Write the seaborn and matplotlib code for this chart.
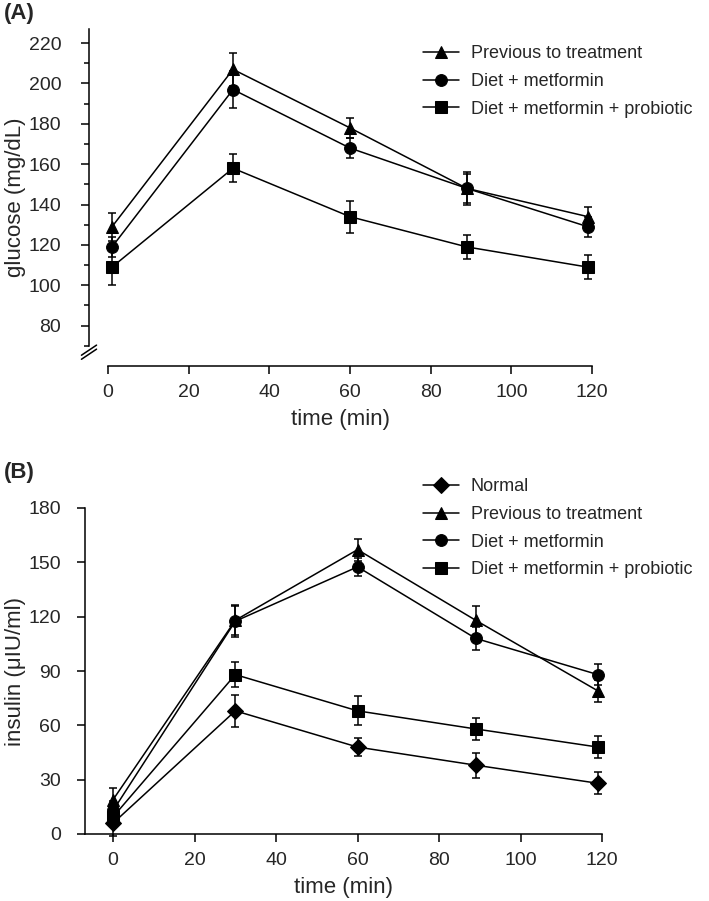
import numpy as np
import pandas as pd
import matplotlib
matplotlib.use("Agg")
import matplotlib.pyplot as plt
import seaborn as sns

# ---- data ----
time_a = [1, 31, 60, 89, 119]
glu_prev = [129, 207, 178, 148, 134]
glu_prev_err = [7, 8, 5, 8, 5]
glu_met = [119, 197, 168, 148, 129]
glu_met_err = [5, 9, 5, 7, 5]
glu_pro = [109, 158, 134, 119, 109]
glu_pro_err = [9, 7, 8, 6, 6]

time_b = [0, 30, 60, 89, 119]
ins_norm = [6, 68, 48, 38, 28]
ins_norm_err = [7, 9, 5, 7, 6]
ins_prev = [19, 118, 157, 118, 79]
ins_prev_err = [6.5, 8, 6, 8, 6]
ins_met = [13, 117.5, 147.5, 108, 88]
ins_met_err = [5, 9, 5, 6.5, 6]
ins_pro = [9.5, 88, 68, 58, 48]
ins_pro_err = [5, 7, 8, 6, 6]

groups_a = ["Previous to treatment", "Diet + metformin", "Diet + metformin + probiotic"]
groups_b = ["Normal"] + groups_a
markers = {"Normal": "D", "Previous to treatment": "^",
           "Diet + metformin": "o", "Diet + metformin + probiotic": "s"}

sns.set_style("ticks")
plt.rcParams["font.family"] = ["Liberation Sans", "DejaVu Sans"]
plt.rcParams["font.size"] = 14

df_a = pd.DataFrame({
    "time": time_a * 3,
    "glucose": glu_prev + glu_met + glu_pro,
    "err": glu_prev_err + glu_met_err + glu_pro_err,
    "group": np.repeat(groups_a, len(time_a)),
})
df_b = pd.DataFrame({
    "time": time_b * 4,
    "insulin": ins_norm + ins_prev + ins_met + ins_pro,
    "err": ins_norm_err + ins_prev_err + ins_met_err + ins_pro_err,
    "group": np.repeat(groups_b, len(time_b)),
})

fig = plt.figure(figsize=(7.09, 9.01), dpi=100)
ax_a = fig.add_axes([89 / 709, 1 - 366 / 901, (592 - 89) / 709, (366 - 29) / 901])
ax_b = fig.add_axes([85 / 709, 1 - 834 / 901, (602 - 85) / 709, (834 - 508) / 901])


def draw(ax, df, ycol, order):
    for g in order:
        sub = df[df["group"] == g]
        ax.errorbar(sub["time"], sub[ycol], yerr=sub["err"], fmt="none",
                    ecolor="black", elinewidth=1.1, capsize=3, capthick=1.1,
                    clip_on=False, zorder=2)
    sns.lineplot(data=df, x="time", y=ycol, style="group", style_order=order,
                 markers=markers, dashes=False, color="black", linewidth=1.1,
                 markersize=8.5, markeredgecolor="black", errorbar=None,
                 sort=False, ax=ax, clip_on=False, zorder=3)
    ax.set_xlabel("time (min)", fontsize=16, labelpad=6)
    ax.set_xticks([0, 20, 40, 60, 80, 100, 120])
    ax.spines["right"].set_visible(False)
    ax.spines["top"].set_visible(False)
    ax.tick_params(axis="both", direction="out", length=6, width=1.1,
                   labelsize=14, color="black")
    ax.tick_params(axis="x", pad=7)
    for s in ["left", "bottom"]:
        ax.spines[s].set_linewidth(1.1)
        ax.spines[s].set_color("black")
    ax.legend(loc="upper left", frameon=False, fontsize=13,
              bbox_transform=fig.transFigure, borderaxespad=0, borderpad=0,
              handlelength=2.0, handletextpad=0.65, labelspacing=0.6)


# ---- panel A ----
draw(ax_a, df_a, "glucose", groups_a)
ax_a.set_xlim(-4.7, 120)
ax_a.set_ylim(60, 227)
ax_a.spines["bottom"].set_bounds(0, 120)
ax_a.set_yticks(range(80, 221, 20))
ax_a.set_yticks(range(70, 221, 10), minor=True)
ax_a.tick_params(axis="y", which="major", pad=14)
ax_a.tick_params(axis="y", which="minor", length=3.5, width=1.1, color="black")
ax_a.spines["left"].set_bounds(70, 227)
ax_a.set_ylabel("glucose (mg/dL)", fontsize=16)
ax_a.yaxis.set_label_coords((26 - 89) / 503, 0.5)
# axis break marks
for dy in (0, 0.012):
    ax_a.plot([-0.015, 0.015], [0.02 + dy, 0.05 + dy], transform=ax_a.transAxes,
              color="black", lw=1.1, clip_on=False)
ax_a.get_legend().set_bbox_to_anchor((423 / 709, 1 - 45 / 901), transform=fig.transFigure)
fig.text(4 / 709, 1 - 13 / 901, "(A)", fontsize=16, fontweight="bold", va="center")

# ---- panel B ----
draw(ax_b, df_b, "insulin", groups_b)
ax_b.set_xlim(-6.9, 120)
ax_b.set_ylim(0, 180)
ax_b.spines["bottom"].set_bounds(-6.9, 120)
ax_b.set_yticks(range(0, 181, 30))
ax_b.tick_params(axis="y", pad=11.5)
ax_b.set_ylabel("insulin (\u03bcIU/ml)", fontsize=16)
ax_b.yaxis.set_label_coords((26 - 85) / 517, 0.5)
ax_b.get_legend().set_bbox_to_anchor((423 / 709, 1 - 478 / 901), transform=fig.transFigure)
fig.text(4 / 709, 1 - 472 / 901, "(B)", fontsize=16, fontweight="bold", va="center")

fig.savefig("out.png", dpi=100)
